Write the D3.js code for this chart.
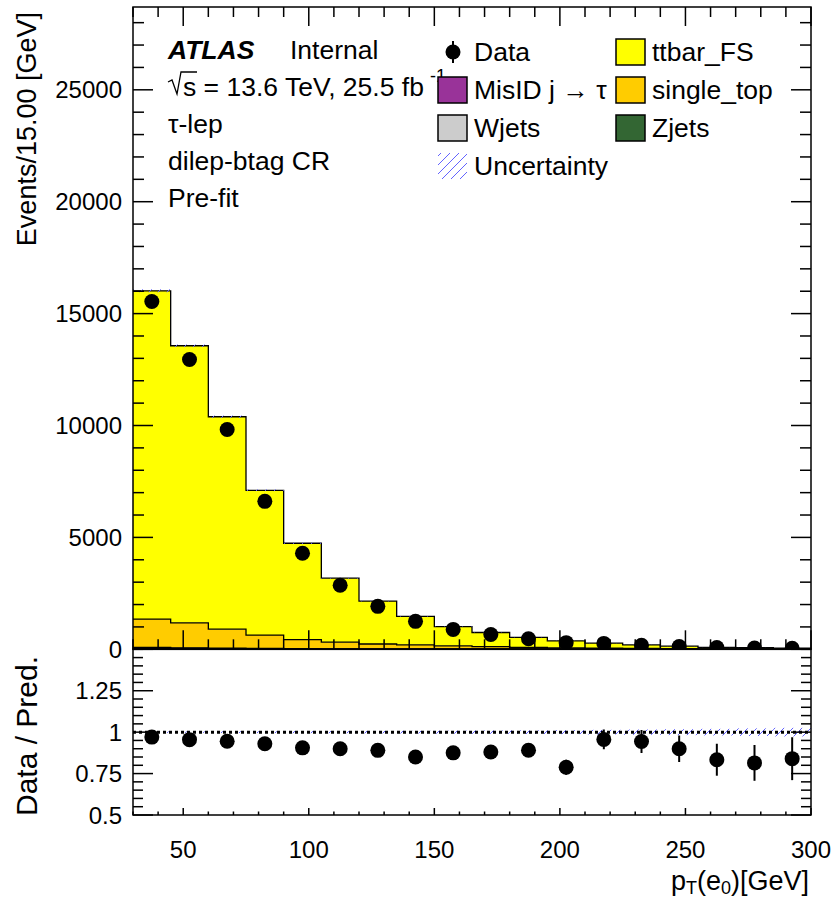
<!DOCTYPE html>
<html>
<head>
  <meta charset="utf-8">
  <title>pT(e0) dilep-btag CR</title>
  <script src="https://d3js.org/d3.v7.min.js"></script>
  <style>
    body { margin: 0; background: #fff; }
    svg { font-family: "Liberation Sans", Arial, Helvetica, sans-serif; }
    .tick-label { font-size: 24px; fill: #000; }
    .leg { font-size: 26.5px; fill: #000; }
  </style>
</head>
<body>
  <script>
    // bins of 15 GeV from 30 to 300
    var binEdges = [30, 45, 60, 75, 90, 105, 120, 135, 150, 165, 180, 195, 210, 225, 240, 255, 270, 285, 300];

    var dataCounts = [15540, 12950, 9820, 6610, 4290, 2860, 1920, 1250, 890, 660, 472, 298, 263, 184, 126, 75, 57, 42];

    var ttbarFS   = [14670, 12380, 9490, 6470, 4310, 2860, 1920, 1270, 860, 630, 440, 310, 228, 158, 113, 71, 56, 40];
    var singleTop = [1265, 1116, 850, 600, 405, 300, 225, 190, 150, 115, 85, 65, 45, 35, 25, 18, 14, 10];
    var misID     = [30, 25, 20, 14, 10, 7, 5, 4, 3, 2, 2, 1, 1, 1, 1, 1, 0, 0];
    var wjets     = [15, 12, 9, 6, 4, 3, 2, 2, 1, 1, 1, 1, 0, 0, 0, 0, 0, 0];
    var zjets     = [40, 30, 22, 15, 10, 7, 5, 4, 3, 2, 2, 1, 1, 1, 1, 0, 0, 0];

    // relative uncertainty of the prediction
    var relUnc = [0.004, 0.004, 0.005, 0.005, 0.006, 0.006, 0.007, 0.008, 0.009, 0.010, 0.011, 0.012, 0.014, 0.016, 0.018, 0.020, 0.023, 0.026];

    var xTicks = [50, 100, 150, 200, 250, 300];
    var yTicks = [0, 5000, 10000, 15000, 20000, 25000];
    var rTicks = [0.5, 0.75, 1, 1.25];
    var rTickLabels = ["0.5", "0.75", "1", "1.25"];

    var W = 834, H = 899;
    var X0 = 133, X1 = 811, mainTop = 7, mainBot = 649.3, ratioBot = 815;

    var x = d3.scaleLinear().domain([30, 300]).range([X0, X1]);
    var y = d3.scaleLinear().domain([0, 28700]).range([mainBot, mainTop]);
    var yr = d3.scaleLinear().domain([0.5, 1.5]).range([ratioBot, mainBot]);

    var keys = ["zjets", "wjets", "misID", "singleTop", "ttbarFS"];
    var colors = { ttbarFS: "#ffff00", singleTop: "#ffcc00", misID: "#993399", wjets: "#cccccc", zjets: "#336633" };
    var hatchColor = "#6363ff";

    var rows = dataCounts.map(function(d, i) {
      return { lo: binEdges[i], hi: binEdges[i + 1], data: d,
               ttbarFS: ttbarFS[i], singleTop: singleTop[i], misID: misID[i], wjets: wjets[i], zjets: zjets[i] };
    });
    rows.forEach(function(r, i) {
      r.total = r.ttbarFS + r.singleTop + r.misID + r.wjets + r.zjets;
      r.unc = r.total * relUnc[i];
      r.ratio = r.data / r.total;
      r.rerr = Math.sqrt(r.data) / r.total;
    });

    var svg = d3.select("body").append("svg").attr("width", W).attr("height", H);

    var defs = svg.append("defs");
    var pat = defs.append("pattern").attr("id", "hatch").attr("patternUnits", "userSpaceOnUse")
        .attr("width", 9).attr("height", 9);
    pat.append("path").attr("d", "M-2,11 L11,-2 M-2,2 L2,-2 M7,11 L11,7")
        .attr("stroke", hatchColor).attr("stroke-width", 1);
    defs.append("clipPath").attr("id", "clipMain").append("rect")
        .attr("x", X0).attr("y", mainTop).attr("width", X1 - X0).attr("height", mainBot - mainTop);
    defs.append("clipPath").attr("id", "clipRatio").append("rect")
        .attr("x", X0).attr("y", mainBot).attr("width", X1 - X0).attr("height", ratioBot - mainBot);

    // ---- main pad: stacked histograms
    var stack = d3.stack().keys(keys)(rows);
    var main = svg.append("g").attr("clip-path", "url(#clipMain)");

    function stepPoints(layer) {
      var pts = [];
      layer.forEach(function(s) {
        pts.push([s.data.lo, s[0], s[1]]);
        pts.push([s.data.hi, s[0], s[1]]);
      });
      return pts;
    }
    var area = d3.area().x(function(p) { return x(p[0]); })
        .y0(function(p) { return y(p[1]); }).y1(function(p) { return y(p[2]); });
    var topLine = d3.line().x(function(p) { return x(p[0]); }).y(function(p) { return y(p[2]); });

    stack.forEach(function(layer) {
      main.append("path").attr("d", area(stepPoints(layer))).attr("fill", colors[layer.key]);
    });
    stack.forEach(function(layer) {
      main.append("path").attr("d", topLine(stepPoints(layer))).attr("fill", "none")
          .attr("stroke", "#000").attr("stroke-width", 1.3);
    });

    // uncertainty band main
    main.selectAll(".uncMain").data(rows).enter().append("rect")
        .attr("x", function(d) { return x(d.lo); })
        .attr("width", function(d) { return x(d.hi) - x(d.lo); })
        .attr("y", function(d) { return y(d.total + d.unc); })
        .attr("height", function(d) { return y(d.total - d.unc) - y(d.total + d.unc); })
        .attr("fill", "url(#hatch)");

    // data points main
    main.selectAll(".errMain").data(rows).enter().append("line")
        .attr("x1", function(d) { return x((d.lo + d.hi) / 2); })
        .attr("x2", function(d) { return x((d.lo + d.hi) / 2); })
        .attr("y1", function(d) { return y(d.data + Math.sqrt(d.data)); })
        .attr("y2", function(d) { return y(d.data - Math.sqrt(d.data)); })
        .attr("stroke", "#000").attr("stroke-width", 2);
    main.selectAll(".dotMain").data(rows).enter().append("circle")
        .attr("cx", function(d) { return x((d.lo + d.hi) / 2); })
        .attr("cy", function(d) { return y(d.data); })
        .attr("r", 7.5).attr("fill", "#000");

    // ---- ratio pad
    var ratio = svg.append("g").attr("clip-path", "url(#clipRatio)");
    ratio.selectAll(".uncR").data(rows).enter().append("rect")
        .attr("x", function(d) { return x(d.lo); })
        .attr("width", function(d) { return x(d.hi) - x(d.lo); })
        .attr("y", function(d, i) { return yr(1 + relUnc[i]); })
        .attr("height", function(d, i) { return yr(1 - relUnc[i]) - yr(1 + relUnc[i]); })
        .attr("fill", "url(#hatch)");
    ratio.append("line").attr("x1", X0).attr("x2", X1).attr("y1", yr(1)).attr("y2", yr(1))
        .attr("stroke", "#000").attr("stroke-width", 3).attr("stroke-dasharray", "3,3");
    ratio.selectAll(".errR").data(rows).enter().append("line")
        .attr("x1", function(d) { return x((d.lo + d.hi) / 2); })
        .attr("x2", function(d) { return x((d.lo + d.hi) / 2); })
        .attr("y1", function(d) { return yr(d.ratio + d.rerr); })
        .attr("y2", function(d) { return yr(d.ratio - d.rerr); })
        .attr("stroke", "#000").attr("stroke-width", 2);
    ratio.selectAll(".dotR").data(rows).enter().append("circle")
        .attr("cx", function(d) { return x((d.lo + d.hi) / 2); })
        .attr("cy", function(d) { return yr(d.ratio); })
        .attr("r", 7.5).attr("fill", "#000");

    // ---- frames and ticks
    var frame = svg.append("g").attr("stroke", "#000").attr("fill", "none").attr("stroke-width", 1.5);
    frame.append("rect").attr("x", X0).attr("y", mainTop).attr("width", X1 - X0).attr("height", mainBot - mainTop);
    frame.append("rect").attr("x", X0).attr("y", mainBot).attr("width", X1 - X0).attr("height", ratioBot - mainBot);

    x.ticks(27).forEach(function(v) {
      var major = xTicks.indexOf(v) >= 0;
      var lm = major ? 19 : 10, lr = major ? 7 : 3.5;
      frame.append("line").attr("x1", x(v)).attr("x2", x(v)).attr("y1", mainBot).attr("y2", mainBot - lm);
      frame.append("line").attr("x1", x(v)).attr("x2", x(v)).attr("y1", mainTop).attr("y2", mainTop + lm);
      frame.append("line").attr("x1", x(v)).attr("x2", x(v)).attr("y1", ratioBot).attr("y2", ratioBot - lr);
    });
    y.ticks(28).forEach(function(v) {
      var major = v % 5000 === 0;
      var l = major ? 20 : 11;
      frame.append("line").attr("x1", X0).attr("x2", X0 + l).attr("y1", y(v)).attr("y2", y(v));
      frame.append("line").attr("x1", X1).attr("x2", X1 - l).attr("y1", y(v)).attr("y2", y(v));
    });
    yr.ticks(20).forEach(function(v) {
      var major = rTicks.some(function(t) { return Math.abs(t - v) < 1e-6; });
      var l = major ? 20 : 10;
      frame.append("line").attr("x1", X0).attr("x2", X0 + l).attr("y1", yr(v)).attr("y2", yr(v));
      frame.append("line").attr("x1", X1).attr("x2", X1 - l).attr("y1", yr(v)).attr("y2", yr(v));
    });

    // tick labels
    svg.selectAll(".yl").data(yTicks).enter().append("text").attr("class", "tick-label")
        .attr("x", 122).attr("y", function(d) { return y(d) + 8.5; })
        .attr("text-anchor", "end").text(function(d) { return d; });
    svg.selectAll(".rl").data(rTicks).enter().append("text").attr("class", "tick-label")
        .attr("x", 122).attr("y", function(d) { return yr(d) + 8.5; })
        .attr("text-anchor", "end").text(function(d, i) { return rTickLabels[i]; });
    svg.selectAll(".xl").data(xTicks).enter().append("text").attr("class", "tick-label")
        .attr("x", function(d) { return x(d); }).attr("y", 858)
        .attr("text-anchor", "middle").text(function(d) { return d; });

    // axis titles
    svg.append("text").attr("text-anchor", "end").attr("font-size", 27)
        .attr("transform", "translate(36,12) rotate(-90)").text("Events/15.00 [GeV]");
    svg.append("text").attr("text-anchor", "middle").attr("font-size", 30)
        .attr("transform", "translate(37,736) rotate(-90)").text("Data / Pred.");
    var xt = svg.append("text").attr("text-anchor", "end").attr("font-size", 27)
        .attr("x", X1 - 2).attr("y", 890);
    xt.append("tspan").text("p");
    xt.append("tspan").attr("dy", 4).attr("font-size", 18).text("T");
    xt.append("tspan").attr("dy", -4).text("(e");
    xt.append("tspan").attr("dy", 4).attr("font-size", 18).text("0");
    xt.append("tspan").attr("dy", -4).text(")[GeV]");

    // ---- labels
    svg.append("text").attr("class", "leg").attr("x", 168).attr("y", 59)
        .attr("font-weight", "bold").attr("font-style", "italic").text("ATLAS");
    svg.append("text").attr("class", "leg").attr("x", 290).attr("y", 59).text("Internal");
    var lumi = svg.append("text").attr("class", "leg").attr("x", 183).attr("y", 96);
    lumi.append("tspan").text("s = 13.6 TeV, 25.5 fb");
    lumi.append("tspan").attr("dx", 6).attr("dy", -14).attr("font-size", 18).text("-1");
    svg.append("path").attr("d", "M168,82 L172,80 L177,94 L181,72 L197,72")
        .attr("fill", "none").attr("stroke", "#000").attr("stroke-width", 1.3);
    svg.append("text").attr("class", "leg").attr("x", 168).attr("y", 133).text("τ-lep");
    svg.append("text").attr("class", "leg").attr("x", 168).attr("y", 170).text("dilep-btag CR");
    svg.append("text").attr("class", "leg").attr("x", 168).attr("y", 207).text("Pre-fit");

    // ---- legend
    var legItems = [
      { label: "Data", type: "data", col: 0, row: 0 },
      { label: "ttbar_FS", type: "box", key: "ttbarFS", col: 1, row: 0 },
      { label: "MisID j \u2192 \u03c4", type: "box", key: "misID", col: 0, row: 1 },
      { label: "single_top", type: "box", key: "singleTop", col: 1, row: 1 },
      { label: "Wjets", type: "box", key: "wjets", col: 0, row: 2 },
      { label: "Zjets", type: "box", key: "zjets", col: 1, row: 2 },
      { label: "Uncertainty", type: "unc", col: 0, row: 3 }
    ];
    var colX = [438, 616], rowY = [52, 90, 128, 166];
    legItems.forEach(function(it) {
      var bx = colX[it.col], cy = rowY[it.row];
      var g = svg.append("g");
      if (it.type === "box") {
        g.append("rect").attr("x", bx).attr("y", cy - 13).attr("width", 29).attr("height", 26)
            .attr("fill", colors[it.key]).attr("stroke", "#000").attr("stroke-width", 1.5);
      } else if (it.type === "unc") {
        g.append("rect").attr("x", bx).attr("y", cy - 13).attr("width", 29).attr("height", 26)
            .attr("fill", "url(#hatch)");
      } else {
        g.append("line").attr("x1", bx + 15).attr("x2", bx + 15).attr("y1", cy - 11).attr("y2", cy + 11)
            .attr("stroke", "#000").attr("stroke-width", 2);
        g.append("circle").attr("cx", bx + 15).attr("cy", cy).attr("r", 7.5).attr("fill", "#000");
      }
      g.append("text").attr("class", "leg").attr("x", bx + 36).attr("y", cy + 9).text(it.label);
    });
  </script>
</body>
</html>
